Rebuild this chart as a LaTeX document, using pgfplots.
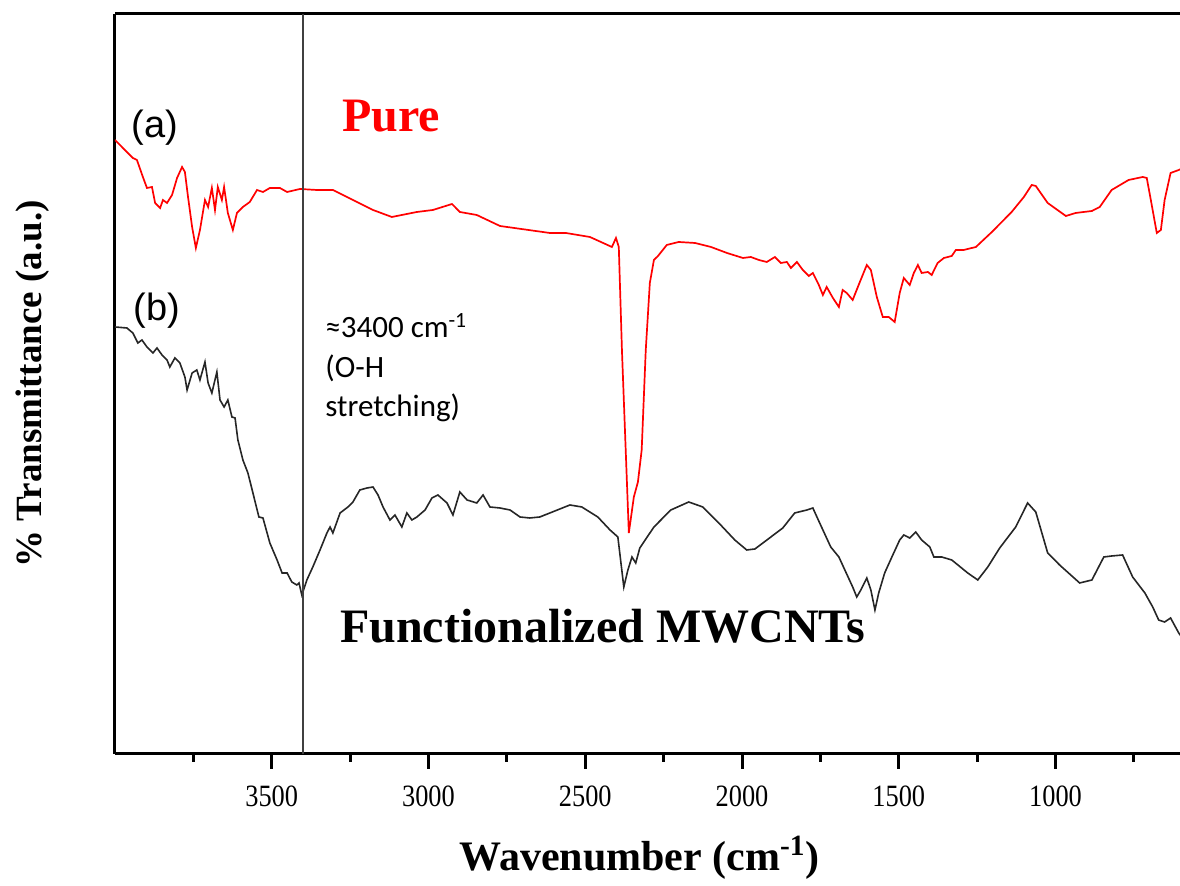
\documentclass[border=0pt]{standalone}
\usepackage{fontspec}
\setmainfont{Liberation Serif}
\newfontfamily\arialfont{Liberation Sans}
\newfontfamily\calibrifont{Carlito}
\usepackage{graphicx}
\usepackage{pgfplots}
\pgfplotsset{compat=1.18}

\begin{document}
\begin{tikzpicture}
\useasboundingbox (-57.5pt,-66pt) rectangle (532.5pt,377pt);
\begin{axis}[
  at={(0,0)}, anchor=south west,
  width=532.5pt, height=370pt, scale only axis,
  x dir=reverse,
  xmin=603, xmax=4000, ymin=0, ymax=740,
  axis x line=box, axis y line=left,
  every non boxed y axis/.style={y axis line style={-}},
  axis line style={-, line width=1.5pt, black},
  xtick={1000,1500,2000,2500,3000,3500},
  minor xtick={750,1250,1750,2250,2750,3250,3750},
  xtick pos=bottom, ytick=\empty,
  tick align=outside,
  major tick length=7.5pt, minor tick length=4pt,
  every major tick/.append style={line width=1.5pt, black},
  every minor tick/.append style={line width=1.5pt, black},
  xtick style={line width=1.5pt, black},
  /pgf/number format/1000 sep={},
  /pgf/number format/assume math mode=true,
  xticklabel={\scalebox{0.85}[1]{\pgfmathprintnumber{\tick}}},
  xticklabel style={font=\fontsize{15.5}{15.5}\selectfont, yshift=-5pt},
  xlabel={\textbf{Wavenumber (cm\textsuperscript{-1})}},
  ylabel={\textbf{\% Transmittance (a.u.)}},
  every axis x label/.style={at={(axis description cs:0.5,0)}, anchor=center, yshift=-52pt, xshift=-4pt, font=\fontsize{21}{21}\selectfont},
  every axis y label/.style={at={(axis description cs:0,0.5)}, anchor=center, xshift=-41pt, rotate=90, font=\fontsize{18.5}{18.5}\selectfont},
]
% (a) pure MWCNTs
\addplot[color=red, line width=0.85pt] coordinates {
(4000,614) (3943,596) (3930,594) (3911,577) (3898,566) (3882,567) (3872,551)
(3856,546) (3847,554) (3834,551) (3818,559) (3802,576) (3786,587) (3777,582)
(3767,557) (3754,527) (3742,506) (3729,524) (3713,554) (3703,547) (3691,566)
(3681,544) (3672,567) (3659,554) (3652,567) (3640,541) (3624,524) (3611,541)
(3592,547) (3570,552) (3547,564) (3528,562) (3506,566) (3474,566) (3451,562)
(3410,565) (3356,564) (3305,564) (3241,554) (3177,544) (3117,537) (3037,542)
(2986,544) (2925,550) (2900,542) (2846,539) (2772,528) (2613,521) (2562,521)
(2485,517) (2415,507) (2402,516) (2393,507) (2383,404) (2361,221) (2345,257)
(2332,272) (2320,304) (2307,404) (2294,471) (2281,494) (2268,498) (2240,509)
(2202,512) (2150,511) (2099,507) (2048,501) (1997,496) (1972,497) (1946,494)
(1921,492) (1895,497) (1876,491) (1857,492) (1844,486) (1825,492) (1806,484)
(1787,478) (1774,481) (1755,469) (1742,459) (1730,467) (1710,456) (1691,447)
(1679,464) (1666,461) (1647,454) (1628,469) (1602,489) (1589,484) (1570,457)
(1551,437) (1532,437) (1513,432) (1497,461) (1484,476) (1465,469) (1452,481)
(1439,489) (1427,481) (1407,482) (1395,479) (1376,491) (1356,496) (1331,498)
(1318,504) (1293,504) (1254,507) (1203,522) (1140,542) (1101,557) (1076,569)
(1063,568) (1025,551) (967,538) (936,541) (884,543) (859,547) (821,564)
(767,574) (722,577) (709,576) (696,554) (677,521) (664,524) (652,554)
(633,581) (607,584) (600,585)
};
% (b) functionalized MWCNTs
\addplot[color=black!85, line width=0.8pt] coordinates {
(4000,427) (3962,426) (3943,421) (3927,411) (3914,414) (3898,407) (3879,401)
(3866,406) (3850,399) (3834,394) (3825,387) (3809,396) (3793,391) (3777,377)
(3770,364) (3754,381) (3739,384) (3729,374) (3713,392) (3703,371) (3691,361)
(3675,382) (3665,354) (3652,347) (3640,354) (3627,337) (3617,336) (3608,314)
(3592,294) (3576,281) (3560,261) (3541,237) (3528,236) (3506,211) (3483,194)
(3467,181) (3451,181) (3436,172) (3420,169) (3413,171) (3404,159) (3388,174)
(3369,187) (3346,204) (3324,221) (3314,227) (3305,221) (3282,241) (3257,247)
(3241,252) (3219,264) (3196,266) (3177,267) (3161,259) (3145,247) (3123,234)
(3107,239) (3085,227) (3069,241) (3053,234) (3037,237) (3011,244) (2989,256)
(2970,259) (2941,251) (2922,239) (2900,262) (2877,254) (2846,251) (2826,259)
(2804,247) (2772,246) (2740,244) (2708,237) (2677,236) (2645,237) (2613,241)
(2549,249) (2511,247) (2460,237) (2421,224) (2396,217) (2377,167) (2364,184)
(2351,197) (2339,191) (2326,206) (2281,227) (2227,244) (2170,252) (2125,247)
(2074,231) (2023,214) (1985,204) (1959,205) (1908,217) (1870,226) (1832,241)
(1793,244) (1774,246) (1761,237) (1742,224) (1717,207) (1691,197) (1672,184)
(1647,167) (1634,157) (1621,164) (1602,176) (1589,164) (1576,144) (1564,161)
(1545,181) (1522,197) (1497,214) (1484,219) (1465,216) (1446,222) (1427,214)
(1401,207) (1388,197) (1363,197) (1331,194) (1280,181) (1248,174) (1216,187)
(1178,206) (1127,227) (1089,251) (1063,242) (1025,201) (987,189) (923,171)
(884,174) (846,197) (821,198) (786,199) (754,177) (715,161) (690,147)
(671,134) (652,132) (633,136) (607,121) (600,118)
};
% O-H stretching marker
\addplot[color=black!75, line width=0.7pt] coordinates {(3400,0) (3400,740)};

\node[anchor=center, font=\arialfont\fontsize{19}{19}\selectfont] at (axis cs:3872,626) {(a)};
\node[anchor=center, font=\arialfont\fontsize{19}{19}\selectfont] at (axis cs:3866,443) {(b)};
\node[anchor=base west, inner sep=0pt, text=red, font=\bfseries\fontsize{24}{24}\selectfont] at (axis cs:3276,622) {Pure};
\node[anchor=base west, inner sep=0pt, font=\bfseries\fontsize{24}{24}\selectfont] at (axis cs:3283,111) {Functionalized MWCNTs};
\node[anchor=base west, inner sep=0pt, font=\calibrifont\fontsize{15.5}{15.5}\selectfont] at (axis cs:3330,416) {≈3400 cm\textsuperscript{-1}};
\node[anchor=base west, inner sep=0pt, font=\calibrifont\fontsize{15.5}{15.5}\selectfont] at (axis cs:3330,376) {(O-H};
\node[anchor=base west, inner sep=0pt, font=\calibrifont\fontsize{15.5}{15.5}\selectfont] at (axis cs:3330,337) {stretching)};
\end{axis}
\end{tikzpicture}
\end{document}
